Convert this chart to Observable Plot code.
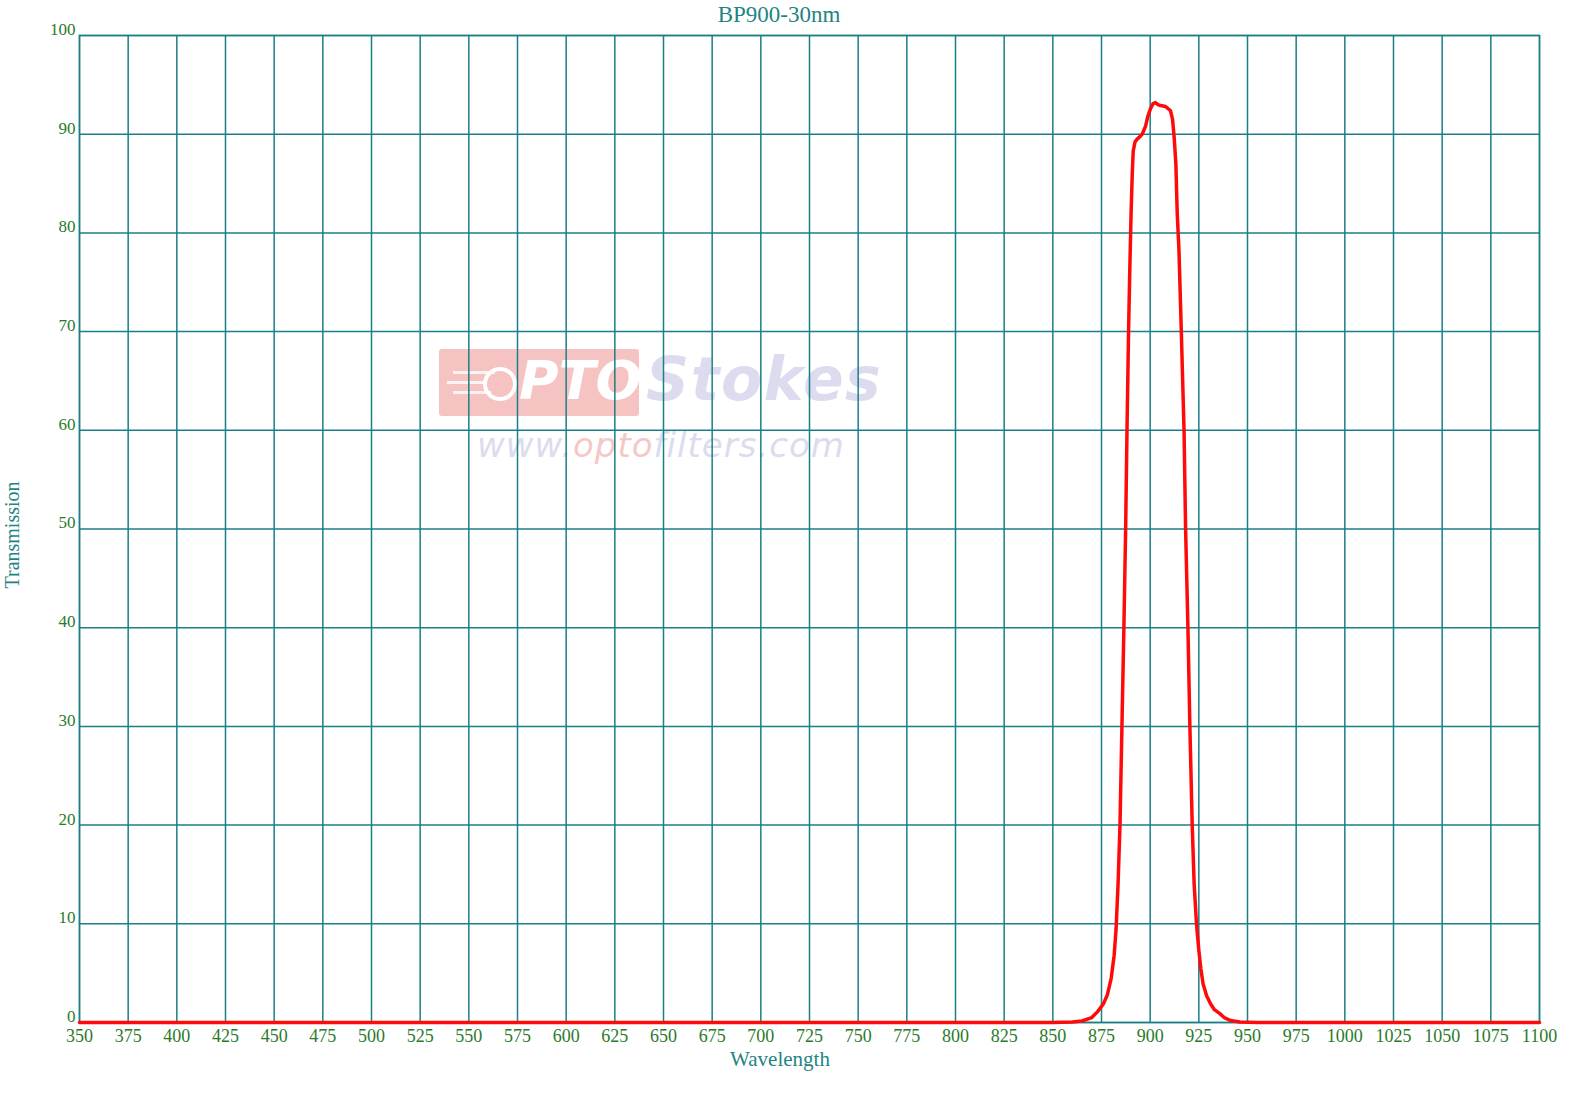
<!DOCTYPE html>
<html>
<head>
<meta charset="utf-8">
<script src="https://cdn.jsdelivr.net/npm/d3@7"></script>
<script src="https://cdn.jsdelivr.net/npm/@observablehq/plot@0.6"></script>
<style>
  body { margin: 0; background: #fff; }
  #wrap { position: relative; width: 1575px; height: 1108px; overflow: hidden; }
  #chart { position: absolute; left: 0; top: 0; z-index: 2; }
  .lbl { position: absolute; font-family: "Liberation Serif", serif; color: #1f8484; white-space: nowrap; z-index: 3; }
  #wm { position: absolute; z-index: 1; left: 439px; top: 349px; }
</style>
</head>
<body>
<div id="wrap">
  <div id="wm">
    <div style="position:absolute;left:0;top:0;width:200px;height:67px;background:#f6c3c3;border-radius:3px;"></div>
    <div style="position:absolute;left:14px;top:22px;width:42px;height:3px;background:#fff;opacity:.8"></div>
    <div style="position:absolute;left:8px;top:32px;width:40px;height:3px;background:#fff;opacity:.8"></div>
    <div style="position:absolute;left:14px;top:42px;width:38px;height:3px;background:#fff;opacity:.8"></div>
    <div style="position:absolute;left:44px;top:18px;width:26px;height:26px;border:4px solid #fff;border-radius:50%;"></div>
    <div style="position:absolute;left:80px;top:0px;font:italic bold 54px 'DejaVu Sans',sans-serif;color:#fff;">PTO</div>
    <div style="position:absolute;left:207px;top:-5px;font:italic bold 60px 'DejaVu Sans',sans-serif;color:#dcdcee;letter-spacing:1.5px;">Stokes</div>
    <div style="position:absolute;left:38px;top:76px;font:italic 34px 'DejaVu Sans',sans-serif;color:#dcdcee;letter-spacing:1px;">www.<span style="color:#f5c8c8">opto</span>filters.com</div>
  </div>
  <div id="chart"></div>
  <div class="lbl" style="left:779px;top:15px;transform:translate(-50%,-50%);font-size:23px;">BP900-30nm</div>
  <div class="lbl" style="left:780px;top:1059px;transform:translate(-50%,-50%);font-size:21px;">Wavelength</div>
  <div class="lbl" style="left:12px;top:535px;transform:translate(-50%,-50%) rotate(-90deg);font-size:20px;">Transmission</div>
</div>
<script>
const xTicks = [350,375,400,425,450,475,500,525,550,575,600,625,650,675,700,725,750,775,800,825,850,875,900,925,950,975,1000,1025,1050,1075,1100];
const yTicks = [0,10,20,30,40,50,60,70,80,90,100];

const wavelength = [350,850,860,865,870,873,876,878,880,881.5,882.5,883.5,884.5,885.5,886.5,887.4,888.1,888.9,889.5,890.2,890.8,891.3,892.2,893.3,895.0,895.9,897.6,898.8,900.2,901.5,902.7,904,905.3,907.9,910.4,911.5,912.4,913.2,913.9,914.8,916.0,917.4,918.2,919.4,920.4,921.6,922.6,923.8,925.0,926.0,927.2,929,931.0,933,935.8,938,941.3,946,955,1100];
const transmission = [0,0,0.05,0.15,0.5,1.1,1.9,2.8,4.5,6.8,9.5,14,20,30,40,50,60,70,76,82,86,88.3,89.2,89.5,89.8,90.0,90.8,91.8,92.6,93.1,93.2,93.0,92.9,92.8,92.4,91.5,89.5,87,82,78.2,70,60,50,40,30,20,14,10,7.3,5.5,3.9,2.7,1.9,1.3,0.9,0.5,0.2,0.05,0,0];

const data = wavelength.map((w, i) => ({w, t: transmission[i]}));

const gridColor = "#1a7f86";
const tickColor = "#2b7a2b";

const chart = Plot.plot({
  width: 1575,
  height: 1108,
  marginLeft: 79,
  marginRight: 36,
  marginTop: 35,
  marginBottom: 86,
  style: {background: "transparent", fontFamily: "'Liberation Serif', serif", fontSize: "18px"},
  x: {domain: [350, 1100], label: null},
  y: {domain: [0, 100], label: null},
  marks: [
    Plot.gridX(xTicks, {stroke: gridColor, strokeOpacity: 1, strokeWidth: 1.5}),
    Plot.gridY(yTicks, {stroke: gridColor, strokeOpacity: 1, strokeWidth: 1.5}),
    Plot.frame({stroke: gridColor, strokeWidth: 1.5}),
    Plot.axisX(xTicks, {tickSize: 0, tickPadding: 7, fill: tickColor, fontSize: 18, tickFormat: d => String(d), label: null}),
    Plot.axisY(yTicks, {tickSize: 0, tickPadding: 4, dy: -6, fill: tickColor, fontSize: 17, tickFormat: d => String(d), label: null}),
    Plot.line(data, {x: "w", y: "t", stroke: "#ff0a0a", strokeWidth: 3.5, curve: "linear"})
  ]
});
document.getElementById("chart").appendChild(chart);
</script>
</body>
</html>
